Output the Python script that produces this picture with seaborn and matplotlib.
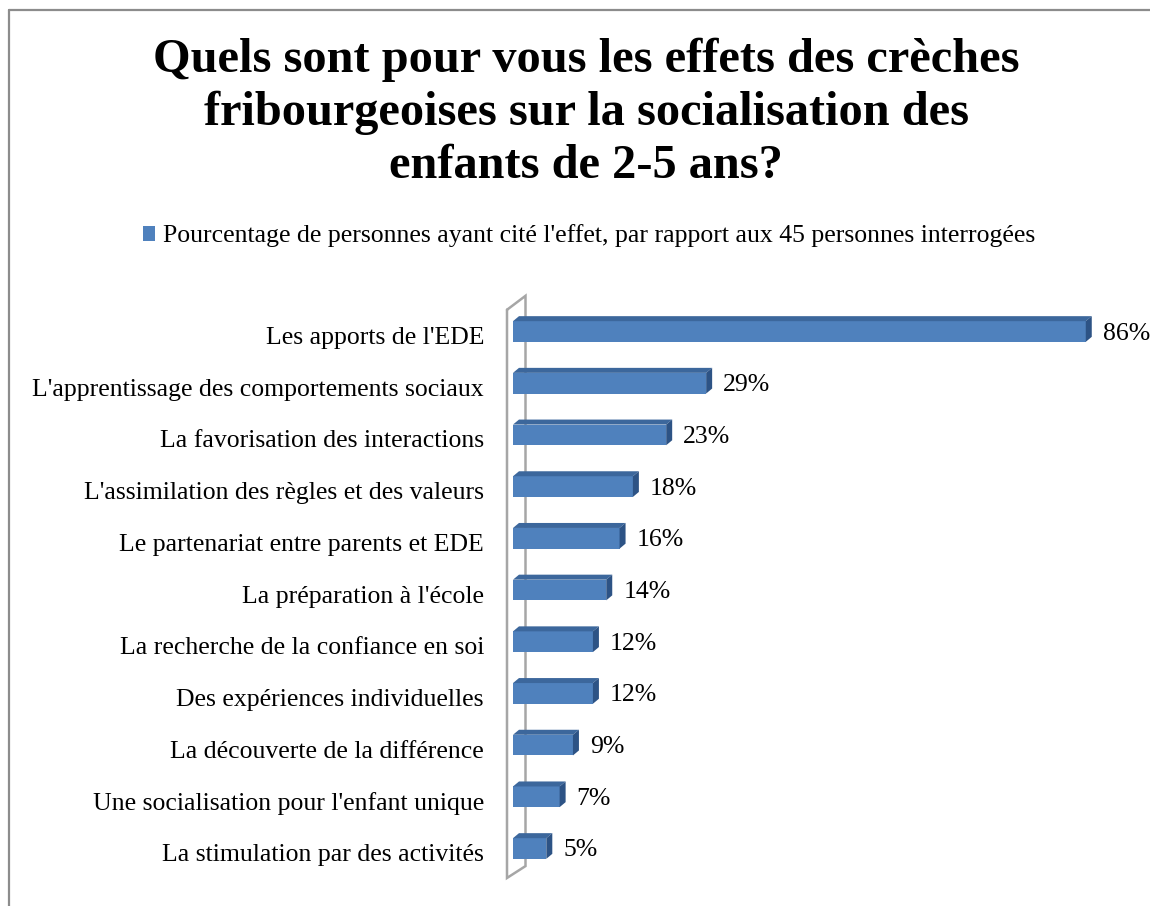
import matplotlib
matplotlib.use("Agg")
import matplotlib.pyplot as plt
import seaborn as sns
import pandas as pd
from matplotlib.patches import Polygon, Patch
from matplotlib.lines import Line2D
from matplotlib.transforms import ScaledTranslation

# ---- data ----
categories = [
    "Les apports de l'EDE",
    "L'apprentissage des comportements sociaux",
    "La favorisation des interactions",
    "L'assimilation des règles et des valeurs",
    "Le partenariat entre parents et EDE",
    "La préparation à l'école",
    "La recherche de la confiance en soi",
    "Des expériences individuelles",
    "La découverte de la différence",
    "Une socialisation pour l'enfant unique",
    "La stimulation par des activités",
]
values = [86, 29, 23, 18, 16, 14, 12, 12, 9, 7, 5]
series_name = "Pourcentage de personnes ayant cité l'effet, par rapport aux 45 personnes interrogées"
title_lines = [
    "Quels sont pour vous les effets des crèches",
    "fribourgeoises sur la socialisation des",
    "enfants de 2-5 ans?",
]

# ---- style ----
sns.set_style("white")
plt.rcParams["font.family"] = ["Liberation Serif", "DejaVu Serif"]
plt.rcParams["text.color"] = "black"

W, H = 1150, 906
fig = plt.figure(figsize=(W / 100, H / 100), dpi=100)
fig.patch.set_facecolor("white")

px_per_unit = 6.66
row_px = 51.7
xmax = 90
ax_left, ax_top_px = 513, 331.5 - row_px / 2
ax_h_px = row_px * len(categories)
ax = fig.add_axes([ax_left / W, 1 - (ax_top_px + ax_h_px) / H,
                   xmax * px_per_unit / W, ax_h_px / H])
ax.patch.set_visible(False)

df = pd.DataFrame({"effet": categories, "pct": values})
front = "#4F81BD"
topc = "#3C679C"
sidec = "#2D5385"
sns.barplot(data=df, x="pct", y="effet", orient="h", color=front,
            saturation=1, width=0.40, ax=ax, zorder=3, linewidth=0, edgecolor="none")
ax.set_xlim(0, xmax)
ax.set_ylim(len(categories) - 0.5, -0.5)
for s in ax.spines.values():
    s.set_visible(False)
ax.set_xticks([])
ax.set_xlabel("")
ax.set_ylabel("")
ax.tick_params(axis="y", length=0, pad=29 * 0.72, labelsize=18.5, labelcolor="black")
off = ScaledTranslation(0, -4 / 100, fig.dpi_scale_trans)
for lab in ax.get_yticklabels():
    lab.set_transform(lab.get_transform() + off)

# 3D faces
ddx = 6 / px_per_unit
ddy = 5 / row_px
for p in ax.patches:
    x0, x1 = p.get_x(), p.get_x() + p.get_width()
    yt, yb = p.get_y(), p.get_y() + p.get_height()
    ax.add_patch(Polygon([(x0, yt), (x0 + ddx, yt - ddy), (x1 + ddx, yt - ddy), (x1, yt)],
                         closed=True, facecolor=topc, edgecolor="none", zorder=3, clip_on=False))
    ax.add_patch(Polygon([(x1, yt), (x1 + ddx, yt - ddy), (x1 + ddx, yb - ddy), (x1, yb)],
                         closed=True, facecolor=sidec, edgecolor="none", zorder=3, clip_on=False))

# value labels
for i, v in enumerate(values):
    ax.annotate(f"{v}%", (v, i), xytext=(17 * 0.72, -2 * 0.72), textcoords="offset points",
                ha="left", va="center", fontsize=18.5, color="black")

# wall (3D back plane outline)
y_lo, y_hi = -0.5, len(categories) - 0.5
xf, xb = -6 / px_per_unit, 12.5 / px_per_unit
wall = [(xf, y_lo + 0.08), (xb, y_lo - 0.19), (xb, y_hi - 0.16), (xf, y_hi + 0.07), (xf, y_lo + 0.08)]
ax.add_line(Line2D([w[0] for w in wall], [w[1] for w in wall], color="#A6A6A6",
                   lw=2.5 * 0.72, zorder=1, clip_on=False, solid_joinstyle="miter"))

# title
for k, line in enumerate(title_lines):
    fig.text(586 / W, 1 - (72 + 53 * k) / H, line, ha="center", va="baseline",
             fontsize=34.8, fontweight="bold", color="black")

# legend
fig.legend(handles=[Patch(facecolor=front, edgecolor="none")], labels=[series_name],
           loc="center", bbox_to_anchor=(589 / W, 1 - 236 / H), frameon=False,
           fontsize=18.5, handlelength=0.5, handleheight=0.5, handletextpad=0.3,
           labelcolor="black")

# outer frame (partial, as in the reference)
fig.add_artist(Line2D([9 / W, 9 / W], [0, 1 - 10 / H], color="#8C8C8C", lw=1.6))
fig.add_artist(Line2D([9 / W, 1], [1 - 10 / H, 1 - 10 / H], color="#8C8C8C", lw=1.6))

fig.savefig("out.png", dpi=100)
